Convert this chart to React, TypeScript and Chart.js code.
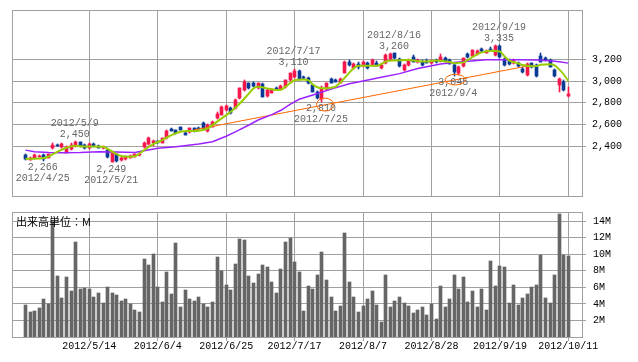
import React, { useEffect, useRef } from "react";
import { Chart, registerables } from "chart.js";

Chart.register(...registerables);

// ---------- DATA ----------
const dates = [
  "2012/4/19", "2012/4/20", "2012/4/23", "2012/4/24", "2012/4/25", "2012/4/26", "2012/4/27", "2012/5/1", "2012/5/2", "2012/5/7",
  "2012/5/8", "2012/5/9", "2012/5/10", "2012/5/11", "2012/5/14", "2012/5/15", "2012/5/16", "2012/5/17", "2012/5/18", "2012/5/21",
  "2012/5/22", "2012/5/23", "2012/5/24", "2012/5/25", "2012/5/28", "2012/5/29", "2012/5/30", "2012/5/31", "2012/6/1", "2012/6/4",
  "2012/6/5", "2012/6/6", "2012/6/7", "2012/6/8", "2012/6/11", "2012/6/12", "2012/6/13", "2012/6/14", "2012/6/15", "2012/6/18",
  "2012/6/19", "2012/6/20", "2012/6/21", "2012/6/22", "2012/6/25", "2012/6/26", "2012/6/27", "2012/6/28", "2012/6/29", "2012/7/2",
  "2012/7/3", "2012/7/4", "2012/7/5", "2012/7/6", "2012/7/9", "2012/7/10", "2012/7/11", "2012/7/12", "2012/7/13", "2012/7/17",
  "2012/7/18", "2012/7/19", "2012/7/20", "2012/7/23", "2012/7/24", "2012/7/25", "2012/7/26", "2012/7/27", "2012/7/30", "2012/7/31",
  "2012/8/1", "2012/8/2", "2012/8/3", "2012/8/6", "2012/8/7", "2012/8/8", "2012/8/9", "2012/8/10", "2012/8/13", "2012/8/14",
  "2012/8/15", "2012/8/16", "2012/8/17", "2012/8/20", "2012/8/21", "2012/8/22", "2012/8/23", "2012/8/24", "2012/8/27", "2012/8/28",
  "2012/8/29", "2012/8/30", "2012/8/31", "2012/9/3", "2012/9/4", "2012/9/5", "2012/9/6", "2012/9/7", "2012/9/10", "2012/9/11",
  "2012/9/12", "2012/9/13", "2012/9/14", "2012/9/18", "2012/9/19", "2012/9/20", "2012/9/21", "2012/9/24", "2012/9/25", "2012/9/26",
  "2012/9/27", "2012/9/28", "2012/10/1", "2012/10/2", "2012/10/3", "2012/10/4", "2012/10/5", "2012/10/9", "2012/10/10", "2012/10/11",
];

const opens = [
  2315, 2275, 2290, 2300, 2318, 2290, 2380, 2412, 2388, 2340,
  2372, 2402, 2435, 2410, 2380, 2418, 2400, 2378, 2360, 2255,
  2325, 2270, 2280, 2290, 2300, 2315, 2388, 2420, 2430, 2445,
  2430, 2470, 2556, 2545, 2572, 2522, 2525, 2562, 2570, 2615,
  2535, 2580, 2655, 2690, 2732, 2748, 2748, 2840, 2917, 2978,
  2985, 2935, 2972, 2860, 2890, 2935, 2925, 2948, 3009, 3040,
  3092, 3040, 3024, 2965, 2900, 2830, 2922, 3015, 3010, 2985,
  3076, 3172, 3120, 3160, 3135, 3162, 3150, 3168, 3118, 3162,
  3200, 3255, 3200, 3100, 3150, 3224, 3175, 3178, 3187, 3170,
  3190, 3190, 3210, 3193, 3150, 3070, 3140, 3245, 3230, 3245,
  3292, 3260, 3292, 3240, 3320, 3205, 3195, 3165, 3170, 3115,
  3060, 3165, 3150, 3230, 3215, 3195, 3105, 2965, 2990, 2862,
];

const highs = [
  2325, 2300, 2325, 2320, 2325, 2330, 2430, 2420, 2430, 2400,
  2425, 2450, 2440, 2418, 2430, 2425, 2410, 2400, 2368, 2352,
  2330, 2300, 2310, 2318, 2330, 2340, 2435, 2480, 2455, 2450,
  2478, 2545, 2565, 2550, 2580, 2528, 2568, 2570, 2575, 2625,
  2600, 2630, 2710, 2770, 2780, 2760, 2830, 2940, 3005, 2985,
  2995, 2985, 2980, 2930, 2930, 2945, 2965, 3012, 3075, 3110,
  3105, 3050, 3035, 2975, 2910, 2955, 2985, 3025, 3020, 3025,
  3185, 3190, 3165, 3180, 3185, 3180, 3200, 3185, 3160, 3245,
  3255, 3260, 3210, 3160, 3200, 3240, 3200, 3190, 3200, 3195,
  3205, 3245, 3225, 3205, 3165, 3140, 3215, 3260, 3290, 3285,
  3305, 3290, 3310, 3330, 3335, 3215, 3200, 3200, 3180, 3125,
  3170, 3170, 3160, 3255, 3225, 3200, 3110, 3030, 3010, 2945,
];

const lows = [
  2275, 2268, 2285, 2295, 2266, 2288, 2370, 2398, 2378, 2335,
  2365, 2395, 2395, 2375, 2375, 2395, 2380, 2370, 2290, 2249,
  2255, 2262, 2272, 2285, 2295, 2305, 2380, 2410, 2400, 2425,
  2425, 2465, 2535, 2515, 2545, 2498, 2520, 2530, 2555, 2560,
  2530, 2575, 2650, 2685, 2720, 2700, 2740, 2835, 2910, 2925,
  2945, 2930, 2850, 2850, 2885, 2915, 2920, 2940, 3000, 3030,
  3010, 3020, 2975, 2895, 2838, 2810, 2915, 2980, 2990, 2978,
  3070, 3140, 3110, 3115, 3125, 3110, 3140, 3135, 3110, 3155,
  3195, 3200, 3130, 3090, 3140, 3175, 3165, 3140, 3165, 3160,
  3170, 3180, 3180, 3155, 3045, 3060, 3130, 3215, 3225, 3240,
  3270, 3255, 3275, 3235, 3215, 3140, 3150, 3160, 3130, 3075,
  3050, 3120, 3040, 3175, 3185, 3125, 3040, 2900, 2905, 2855,
];

const closes = [
  2280, 2292, 2318, 2312, 2280, 2322, 2410, 2402, 2418, 2392,
  2412, 2440, 2400, 2380, 2420, 2400, 2385, 2392, 2295, 2345,
  2262, 2290, 2300, 2312, 2322, 2330, 2428, 2470, 2445, 2430,
  2470, 2538, 2540, 2520, 2550, 2502, 2562, 2535, 2560, 2565,
  2593, 2624, 2700, 2763, 2768, 2705, 2824, 2932, 2993, 2932,
  2950, 2978, 2855, 2920, 2922, 2920, 2958, 3005, 3070, 3095,
  3015, 3024, 2980, 2901, 2842, 2935, 2978, 2984, 2995, 3018,
  3178, 3150, 3155, 3125, 3180, 3120, 3193, 3140, 3150, 3240,
  3248, 3208, 3135, 3150, 3193, 3180, 3193, 3147, 3170, 3185,
  3180, 3218, 3185, 3160, 3085, 3131, 3208, 3220, 3285, 3276,
  3278, 3280, 3280, 3325, 3225, 3150, 3160, 3190, 3135, 3080,
  3160, 3125, 3045, 3180, 3190, 3130, 3045, 3020, 2920, 2882,
];

// volume in millions of shares
const volumes = [
  3.9, 3.0, 3.1, 3.5, 4.6, 4.0, 13.9, 7.4, 4.7, 7.2,
  5.5, 11.5, 5.8, 5.9, 5.8, 4.8, 5.3, 4.1, 6.0, 5.3,
  5.1, 4.3, 4.6, 4.0, 3.3, 3.0, 9.4, 8.7, 10.0, 6.0,
  4.2, 7.8, 5.2, 11.3, 3.6, 5.7, 4.6, 4.3, 4.8, 4.0,
  3.6, 4.2, 9.65, 8.0, 6.3, 5.7, 8.8, 11.8, 11.7, 7.4,
  6.5, 7.6, 8.7, 8.4, 6.6, 5.3, 8.2, 11.5, 11.9, 9.0,
  7.8, 3.1, 6.15, 5.8, 7.5, 10.25, 6.9, 4.8, 3.1, 3.7,
  12.5, 6.6, 4.8, 3.0, 3.7, 4.6, 5.5, 3.9, 1.8, 7.5,
  3.6, 4.3, 4.8, 4.1, 3.7, 2.9, 3.25, 3.6, 2.65, 4.0,
  2.2, 6.15, 3.6, 4.6, 7.5, 5.8, 7.2, 4.2, 5.5, 3.6,
  5.8, 3.25, 9.2, 6.15, 8.6, 8.4, 4.1, 6.3, 3.9, 4.7,
  5.2, 6.0, 6.3, 9.9, 4.7, 4.1, 7.5, 14.8, 9.9, 9.8,
];

// short moving average (green), read as [day index, price]
const shortMaPoints = [
  [0, 2282], [2, 2283], [4, 2290], [5, 2301], [7, 2347], [9, 2384], [11, 2402], [13, 2395],
  [15, 2395], [17, 2393], [19, 2347], [21, 2307], [23, 2301], [24, 2305], [26, 2362], [28, 2418],
  [30, 2455], [32, 2501], [34, 2532], [36, 2538], [38, 2541], [40, 2562], [41, 2593], [43, 2655],
  [45, 2716], [47, 2793], [49, 2886], [50, 2932], [51, 2947], [53, 2932], [55, 2916], [56, 2920],
  [57, 2947], [58, 2980], [59, 3007], [60, 3012], [61, 3013], [62, 3008], [63, 2968], [64, 2942],
  [65, 2932], [67, 2938], [68, 2948], [70, 3030], [72, 3120], [73, 3140], [77, 3140], [79, 3180],
  [81, 3190], [84, 3195], [86, 3182], [88, 3180], [90, 3190], [93, 3176], [94, 3165], [96, 3172],
  [97, 3195], [99, 3246], [100, 3264], [102, 3280], [104, 3272], [105, 3228], [106, 3190], [108, 3163],
  [109, 3147], [111, 3136], [112, 3138], [113, 3150], [115, 3155], [116, 3145], [117, 3107], [118, 3060],
  [119, 3000],
];

// long moving average (purple), read as [day index, price]
const longMaPoints = [
  [0, 2362], [2, 2347], [5, 2340], [8, 2338], [12, 2340], [16, 2347], [20, 2345], [24, 2340],
  [26, 2356], [29, 2380], [33, 2393], [38, 2418], [41, 2439], [44, 2490], [46, 2530], [49, 2594],
  [51, 2640], [54, 2690], [56, 2730], [58, 2785], [60, 2831], [63, 2870], [67, 2925], [71, 2975],
  [74, 3000], [78, 3035], [82, 3068], [86, 3115], [91, 3157], [94, 3170], [97, 3182], [101, 3197],
  [108, 3197], [112, 3193], [115, 3187], [117, 3178], [119, 3165],
];

// support trend line (orange), [day index, price]
const trendPoints = [[37, 2549], [111, 3146]];

const priceTicks = [2400, 2600, 2800, 3000, 3200];
const volumeTicks = [2, 4, 6, 8, 10, 12, 14];
const dateTicks = ["2012/5/14", "2012/6/4", "2012/6/25", "2012/7/17", "2012/8/7", "2012/8/28", "2012/9/19", "2012/10/11"];
const highNotes = ["2012/5/9", "2012/7/17", "2012/8/16", "2012/9/19"];
const lowNotes = ["2012/4/25", "2012/5/21", "2012/7/25", "2012/9/4"];
const circledLows = ["2012/7/25", "2012/9/4"];
const volumeUnitLabel = "出来高単位：M";

// ---------- STYLE ----------
const GRID = "#a0a0a0";
const UP = "#f5184c";
const DOWN = "#0b3a94";
const MONO = "'Liberation Mono', 'DejaVu Sans Mono', monospace";
const X_MIN = -2.95;
const X_MAX = 122.0;
const P_MIN = 1938.5;
const P_MAX = 3655.4;
const V_MAX = 15.09;
const CIRCLE_STYLE = [
  { dx: 3, dy: 3, rx: 8.5, ry: 6.5 },
  { dx: 1, dy: 3.5, rx: 10, ry: 5.3 },
];

const fmt = (v: number) => v.toLocaleString("en-US");

const zeroPad = (s: any) => {
  s.paddingTop = 0;
  s.paddingBottom = 0;
  s.paddingLeft = 0;
  s.paddingRight = 0;
};

// snap bar elements to whole pixels so candles and volume bars render crisply
const crispBars = {
  id: "crispBars",
  afterDatasetsUpdate(chart: any) {
    chart.data.datasets.forEach((_: any, di: number) => {
      const meta = chart.getDatasetMeta(di);
      if (meta.type !== "bar") return;
      meta.data.forEach((el: any) => {
        el.x = Math.floor(el.x) + 0.5;
        el.y = Math.round(el.y);
        el.base = Math.round(el.base);
      });
    });
  },
};

const frame = {
  id: "frame",
  beforeDatasetsDraw(chart: any) {
    const { ctx, chartArea: a } = chart;
    ctx.save();
    ctx.strokeStyle = GRID;
    ctx.lineWidth = 1;
    ctx.strokeRect(Math.round(a.left) + 0.5, Math.round(a.top) + 0.5, Math.round(a.right) - Math.round(a.left), Math.round(a.bottom) - Math.round(a.top));
    ctx.restore();
  },
};

const notesPlugin = {
  id: "notes",
  afterDatasetsDraw(chart: any) {
    const { ctx } = chart;
    const x = chart.scales.x;
    const y = chart.scales.y;
    ctx.save();
    ctx.font = `10px ${MONO}`;
    ctx.fillStyle = "#666";
    ctx.textAlign = "center";
    ctx.textBaseline = "middle";
    highNotes.forEach((d) => {
      const i = dates.indexOf(d);
      const px = x.getPixelForValue(i) - 1;
      const py = y.getPixelForValue(highs[i]);
      ctx.fillText(fmt(highs[i]), px, py - 6.5);
      ctx.fillText(d, px, py - 17.5);
    });
    lowNotes.forEach((d) => {
      const i = dates.indexOf(d);
      const px = x.getPixelForValue(i) - 1;
      const py = y.getPixelForValue(lows[i]);
      ctx.fillText(fmt(lows[i]), px, py + 6.5);
      ctx.fillText(d, px, py + 17.5);
    });
    ctx.strokeStyle = "#ff6600";
    ctx.lineWidth = 1;
    circledLows.forEach((d, k) => {
      const i = dates.indexOf(d);
      const s = CIRCLE_STYLE[k];
      const cx = x.getPixelForValue(i) + s.dx;
      const cy = y.getPixelForValue(lows[i]) + s.dy;
      ctx.beginPath();
      ctx.ellipse(cx, cy, s.rx, s.ry, 0, 0, Math.PI * 2);
      ctx.stroke();
    });
    ctx.restore();
  },
};

const unitPlugin = {
  id: "unit",
  afterDatasetsDraw(chart: any) {
    const { ctx, chartArea: a } = chart;
    ctx.save();
    ctx.font = "11px 'Noto Sans CJK JP', sans-serif";
    ctx.fillStyle = "#000";
    ctx.textAlign = "left";
    ctx.textBaseline = "middle";
    ctx.fillText(volumeUnitLabel, a.left + 4, a.top + 10);
    ctx.restore();
  },
};

const dateTickBuilder = (s: any) => {
  s.ticks = dateTicks.map((d) => ({ value: dates.indexOf(d) }));
};

function PriceChart() {
  const ref = useRef<HTMLCanvasElement>(null);
  useEffect(() => {
    const colors = opens.map((o, i) => (closes[i] >= o ? UP : DOWN));
    const chart = new Chart(ref.current as HTMLCanvasElement, {
      type: "bar",
      data: {
        datasets: [
          {
            type: "line",
            data: shortMaPoints.map(([x, y]) => ({ x, y })),
            borderColor: "#99cc00",
            borderWidth: 2,
            pointRadius: 0,
            cubicInterpolationMode: "monotone",
            order: 0,
          } as any,
          {
            type: "line",
            data: longMaPoints.map(([x, y]) => ({ x, y })),
            borderColor: "#9a22ff",
            borderWidth: 1.5,
            pointRadius: 0,
            tension: 0,
            order: 0,
          } as any,
          {
            type: "line",
            data: trendPoints.map(([x, y]) => ({ x, y })),
            borderColor: "#ff6600",
            borderWidth: 1,
            pointRadius: 0,
            order: 0,
          } as any,
          {
            type: "bar",
            data: dates.map((_, i) => ({ x: i, y: [opens[i], closes[i]] })),
            backgroundColor: colors,
            barThickness: 3,
            minBarLength: 1,
            grouped: false,
            order: 1,
          } as any,
          {
            type: "bar",
            data: dates.map((_, i) => ({ x: i, y: [lows[i], highs[i]] })),
            backgroundColor: colors,
            barThickness: 1,
            grouped: false,
            order: 2,
          } as any,
        ],
      },
      options: {
        animation: false,
        responsive: false,
        maintainAspectRatio: false,
        devicePixelRatio: 1,
        layout: { padding: { left: 12, top: 10, right: 0, bottom: 9 } },
        plugins: { legend: { display: false }, tooltip: { enabled: false } },
        scales: {
          x: {
            type: "linear",
            min: X_MIN,
            max: X_MAX,
            offset: false,
            grid: { color: GRID, drawTicks: false, offset: false },
            border: { display: true, color: GRID },
            ticks: { display: false },
            afterBuildTicks: dateTickBuilder,
            afterFit: (s: any) => {
              s.height = 0;
              zeroPad(s);
            },
          },
          y: {
            position: "right",
            min: P_MIN,
            max: P_MAX,
            grid: { color: GRID, tickLength: 4 },
            border: { display: true, color: GRID },
            ticks: {
              color: "#000",
              padding: 6,
              font: { family: MONO, size: 10 },
              callback: (v: any) => fmt(Number(v)),
            },
            afterBuildTicks: (s: any) => {
              s.ticks = priceTicks.map((v) => ({ value: v }));
            },
            afterFit: (s: any) => {
              s.width = 56;
              zeroPad(s);
            },
          },
        },
      } as any,
      plugins: [crispBars, frame, notesPlugin],
    });
    return () => chart.destroy();
  }, []);
  return <canvas ref={ref} width={638} height={205} style={{ position: "absolute", left: 0, top: 0 }} />;
}

function VolumeChart() {
  const ref = useRef<HTMLCanvasElement>(null);
  useEffect(() => {
    const chart = new Chart(ref.current as HTMLCanvasElement, {
      type: "bar",
      data: {
        datasets: [
          {
            data: volumes.map((v, i) => ({ x: i, y: v })),
            backgroundColor: "#666666",
            barThickness: 3,
            grouped: false,
          } as any,
        ],
      },
      options: {
        animation: false,
        responsive: false,
        maintainAspectRatio: false,
        devicePixelRatio: 1,
        layout: { padding: { left: 12, top: 7, right: 0, bottom: 0 } },
        plugins: { legend: { display: false }, tooltip: { enabled: false } },
        scales: {
          x: {
            type: "linear",
            min: X_MIN,
            max: X_MAX,
            offset: false,
            grid: { color: GRID, tickLength: 4, offset: false },
            border: { display: true, color: GRID },
            ticks: {
              color: "#000",
              padding: 0,
              autoSkip: false,
              maxRotation: 0,
              font: { family: MONO, size: 10, lineHeight: 1 },
              callback: (v: any) => dates[Number(v)],
            },
            afterBuildTicks: dateTickBuilder,
            afterFit: (s: any) => {
              s.height = 25;
              zeroPad(s);
            },
          },
          y: {
            position: "right",
            min: 0,
            max: V_MAX,
            grid: { color: GRID, tickLength: 4 },
            border: { display: true, color: GRID },
            ticks: {
              color: "#000",
              padding: 7,
              font: { family: MONO, size: 10 },
              callback: (v: any) => `${v}M`,
            },
            afterBuildTicks: (s: any) => {
              s.ticks = volumeTicks.map((v) => ({ value: v }));
            },
            afterFit: (s: any) => {
              s.width = 56;
              zeroPad(s);
            },
          },
        },
      } as any,
      plugins: [crispBars, frame, unitPlugin],
    });
    return () => chart.destroy();
  }, []);
  return <canvas ref={ref} width={638} height={157} style={{ position: "absolute", left: 0, top: 205 }} />;
}

export default function App() {
  return (
    <div style={{ position: "absolute", left: 0, top: 0, width: 638, height: 362, background: "#fff" }}>
      <PriceChart />
      <VolumeChart />
    </div>
  );
}
